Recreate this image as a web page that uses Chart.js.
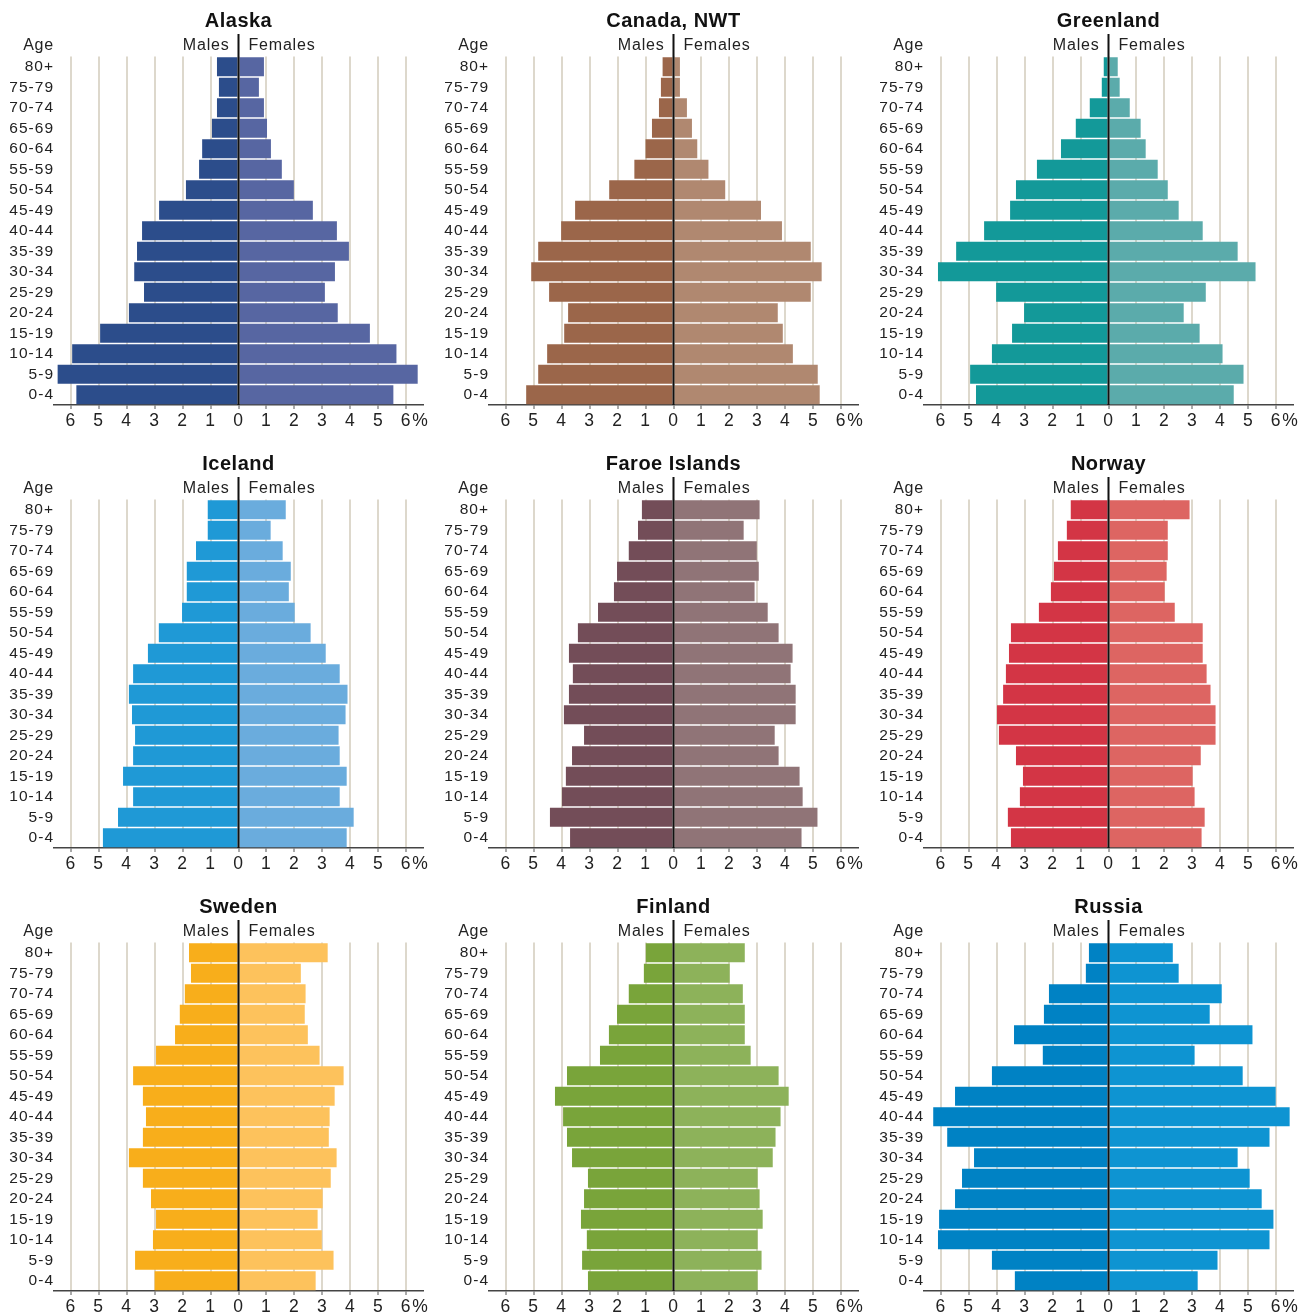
<!DOCTYPE html>
<html>
<head>
<meta charset="utf-8">
<title>Population pyramids</title>
<script src="https://cdn.jsdelivr.net/npm/chart.js@4.4.1/dist/chart.umd.min.js"></script>
<style>
  html, body { margin: 0; padding: 0; background: #fff; overflow: hidden; }
  #grid { display: grid; grid-template-columns: repeat(3, 435px); grid-auto-rows: 443px; }
  canvas { display: block; }
</style>
</head>
<body>
<div id="grid"></div>
<script>
// age groups, top row first
const ageGroups = ["80+", "75-79", "70-74", "65-69", "60-64", "55-59", "50-54", "45-49", "40-44",
  "35-39", "30-34", "25-29", "20-24", "15-19", "10-14", "5-9", "0-4"];
const xTicks = [-6, -5, -4, -3, -2, -1, 0, 1, 2, 3, 4, 5, 6];

// share of population, %
const alaskaMales = [0.77, 0.70, 0.77, 0.95, 1.30, 1.41, 1.88, 2.84, 3.45, 3.63, 3.73, 3.38, 3.92, 4.95, 5.95, 6.47, 5.80];
const alaskaFemales = [0.91, 0.73, 0.91, 1.02, 1.16, 1.55, 1.98, 2.66, 3.52, 3.95, 3.45, 3.09, 3.55, 4.70, 5.65, 6.41, 5.54];
const canadaMales = [0.39, 0.45, 0.52, 0.77, 1.00, 1.40, 2.30, 3.52, 4.02, 4.84, 5.09, 4.45, 3.77, 3.91, 4.52, 4.84, 5.27];
const canadaFemales = [0.23, 0.23, 0.48, 0.66, 0.85, 1.25, 1.85, 3.13, 3.88, 4.91, 5.30, 4.91, 3.73, 3.91, 4.27, 5.16, 5.23];
const greenlandMales = [0.17, 0.24, 0.67, 1.17, 1.70, 2.56, 3.31, 3.52, 4.45, 5.45, 6.10, 4.02, 3.02, 3.45, 4.17, 4.95, 4.74];
const greenlandFemales = [0.33, 0.40, 0.76, 1.15, 1.33, 1.76, 2.12, 2.51, 3.37, 4.62, 5.26, 3.48, 2.69, 3.26, 4.08, 4.83, 4.48];
const icelandMales = [1.10, 1.10, 1.52, 1.85, 1.85, 2.02, 2.85, 3.24, 3.77, 3.92, 3.81, 3.70, 3.77, 4.13, 3.77, 4.31, 4.85];
const icelandFemales = [1.69, 1.15, 1.58, 1.87, 1.80, 2.01, 2.58, 3.12, 3.62, 3.90, 3.83, 3.58, 3.62, 3.87, 3.62, 4.12, 3.87];
const faroeMales = [1.13, 1.27, 1.60, 2.02, 2.13, 2.70, 3.42, 3.74, 3.60, 3.74, 3.92, 3.20, 3.63, 3.85, 3.99, 4.42, 3.70];
const faroeFemales = [3.08, 2.51, 2.98, 3.05, 2.90, 3.37, 3.76, 4.26, 4.19, 4.37, 4.37, 3.62, 3.76, 4.51, 4.62, 5.15, 4.58];
const norwayMales = [1.35, 1.49, 1.81, 1.95, 2.06, 2.49, 3.49, 3.56, 3.67, 3.77, 3.99, 3.92, 3.31, 3.06, 3.17, 3.60, 3.49];
const norwayFemales = [2.90, 2.12, 2.12, 2.08, 2.01, 2.37, 3.37, 3.37, 3.51, 3.65, 3.83, 3.83, 3.30, 3.01, 3.08, 3.44, 3.33];
const swedenMales = [1.77, 1.70, 1.92, 2.10, 2.27, 2.95, 3.77, 3.42, 3.31, 3.42, 3.92, 3.42, 3.13, 2.95, 3.06, 3.70, 3.00];
const swedenFemales = [3.19, 2.23, 2.40, 2.37, 2.48, 2.90, 3.76, 3.44, 3.26, 3.23, 3.51, 3.30, 3.01, 2.83, 2.98, 3.40, 2.76];
const finlandMales = [0.99, 1.06, 1.60, 2.02, 2.31, 2.63, 3.81, 4.24, 3.95, 3.81, 3.63, 3.06, 3.20, 3.31, 3.10, 3.27, 3.06];
const finlandFemales = [2.55, 2.01, 2.48, 2.55, 2.55, 2.76, 3.76, 4.12, 3.83, 3.65, 3.55, 3.01, 3.08, 3.19, 3.01, 3.15, 3.01];
const russiaMales = [0.70, 0.81, 2.13, 2.31, 3.38, 2.35, 4.17, 5.49, 6.27, 5.77, 4.81, 5.24, 5.49, 6.06, 6.10, 4.17, 3.35];
const russiaFemales = [2.30, 2.51, 4.05, 3.62, 5.15, 3.08, 4.80, 5.98, 6.48, 5.76, 4.62, 5.05, 5.48, 5.90, 5.76, 3.90, 3.19];

const panels = [
  { title: "Alaska", males: alaskaMales, females: alaskaFemales, colors: ["#2c4d8b", "#5766a2"] },
  { title: "Canada, NWT", males: canadaMales, females: canadaFemales, colors: ["#9b664a", "#b08870"] },
  { title: "Greenland", males: greenlandMales, females: greenlandFemales, colors: ["#139999", "#5babab"] },
  { title: "Iceland", males: icelandMales, females: icelandFemales, colors: ["#1f99d6", "#6aacdd"] },
  { title: "Faroe Islands", males: faroeMales, females: faroeFemales, colors: ["#734d58", "#907477"] },
  { title: "Norway", males: norwayMales, females: norwayFemales, colors: ["#d33545", "#dd6562"] },
  { title: "Sweden", males: swedenMales, females: swedenFemales, colors: ["#f8ae1b", "#fdc25c"] },
  { title: "Finland", males: finlandMales, females: finlandFemales, colors: ["#79a43a", "#8db25a"] },
  { title: "Russia", males: russiaMales, females: russiaFemales, colors: ["#0082c4", "#0e94d2"] },
];

const FONT = '"Liberation Sans", Arial, Helvetica, sans-serif';
const TEXT = "#222";
const TICK_SIZE = 17.5;

// headers, centre line and the % sign
const pyramidDecor = {
  id: "pyramidDecor",
  beforeLayout(chart) { chart.ctx.letterSpacing = "1px"; },
  beforeDraw(chart) { chart.ctx.letterSpacing = "1px"; },
  afterDatasetsDraw(chart) {
    const { ctx, chartArea, scales: { x } } = chart;
    const zx = x.getPixelForValue(0);
    ctx.save();
    ctx.strokeStyle = "#111";
    ctx.lineWidth = 2;
    ctx.beginPath();
    ctx.moveTo(zx, 34);
    ctx.lineTo(zx, chartArea.bottom);
    ctx.stroke();
    ctx.restore();
  },
  afterDraw(chart, args, opts) {
    const { ctx, chartArea, scales: { x } } = chart;
    const zx = x.getPixelForValue(0);
    ctx.save();
    ctx.fillStyle = "#111";
    ctx.letterSpacing = "0.5px";
    ctx.font = "bold 20px " + FONT;
    ctx.textAlign = "center";
    ctx.textBaseline = "alphabetic";
    ctx.fillText(opts.title, zx, 26.7);

    ctx.fillStyle = TEXT;
    ctx.letterSpacing = "0.8px";
    ctx.font = "16px " + FONT;
    ctx.textAlign = "right";
    ctx.fillText("Age", chartArea.left, 49.5);
    ctx.fillText("Males", zx - 9, 49.5);
    ctx.textAlign = "left";
    ctx.fillText("Females", zx + 10, 49.5);

    ctx.letterSpacing = "0px";
    ctx.font = TICK_SIZE + "px " + FONT;
    ctx.textBaseline = "middle";
    ctx.fillText("%", x.getPixelForValue(6) + 6, chartArea.bottom + 4 + 1.5 + TICK_SIZE * 0.6);
    ctx.restore();
  }
};

const grid = document.getElementById("grid");

panels.forEach(p => {
  const cell = document.createElement("div");
  const canvas = document.createElement("canvas");
  canvas.width = 435;
  canvas.height = 443;
  cell.appendChild(canvas);
  grid.appendChild(cell);

  new Chart(canvas.getContext("2d"), {
    type: "bar",
    data: {
      labels: ageGroups,
      datasets: [
        {
          label: "Males",
          data: p.males.map(v => -v),
          backgroundColor: p.colors[0],
          borderWidth: 0,
          barPercentage: 1,
          categoryPercentage: 0.935,
        },
        {
          label: "Females",
          data: p.females,
          backgroundColor: p.colors[1],
          borderWidth: 0,
          barPercentage: 1,
          categoryPercentage: 0.935,
        },
      ],
    },
    options: {
      indexAxis: "y",
      responsive: false,
      animation: false,
      layout: {
        padding: { top: 56.5, right: 12, left: 0, bottom: 0 },
      },
      plugins: {
        legend: { display: false },
        tooltip: { enabled: false },
        pyramidDecor: { title: p.title },
      },
      scales: {
        x: {
          stacked: true,
          min: -6.6,
          max: 6.6,
          afterFit: (s) => { s.height = 38; },
          afterBuildTicks: (s) => { s.ticks = xTicks.map(v => ({ value: v })); },
          ticks: {
            includeBounds: false,
            stepSize: 1,
            padding: 1.5,
            color: TEXT,
            font: { family: FONT, size: TICK_SIZE },
            maxRotation: 0,
            callback: (v) => Math.abs(v),
          },
          grid: {
            color: "#ddd8cc",
            lineWidth: 2,
            tickColor: "#555",
            tickLength: 4,
            tickWidth: 1,
          },
          border: { display: true, color: "#444", width: 1.5 },
        },
        y: {
          stacked: true,
          afterFit: (s) => { s.width = 54; },
          grid: { display: false, drawTicks: false },
          border: { display: false },
          ticks: {
            padding: 0,
            color: TEXT,
            font: { family: FONT, size: 15.5 },
            autoSkip: false,
          },
        },
      },
    },
    plugins: [pyramidDecor],
  });
});
</script>
</body>
</html>
